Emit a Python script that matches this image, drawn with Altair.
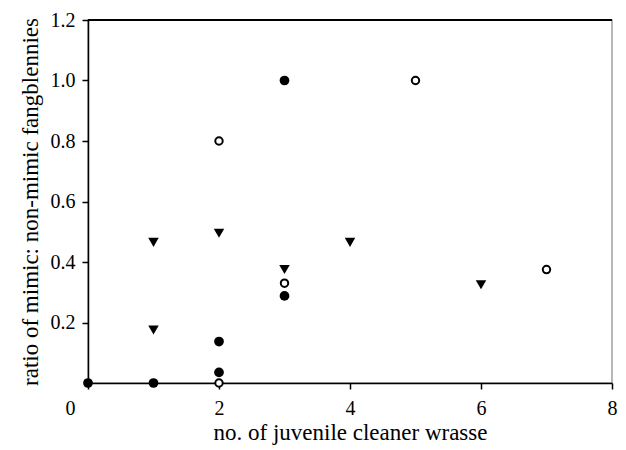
import altair as alt
import pandas as pd

filled_x = [0, 1, 2, 2, 3, 3]
filled_y = [0.0, 0.0, 0.035, 0.137, 0.288, 1.0]
open_x = [2, 2, 3, 5, 7]
open_y = [0.8, 0.0, 0.33, 1.0, 0.375]
tri_x = [1, 1, 2, 3, 4, 6]
tri_y = [0.465, 0.175, 0.495, 0.375, 0.465, 0.325]

x_ticks = [0, 2, 4, 6, 8]
y_ticks = [0.2, 0.4, 0.6, 0.8, 1.0, 1.2]

df_f = pd.DataFrame({"x": filled_x, "y": filled_y})
df_o = pd.DataFrame({"x": open_x, "y": open_y})
df_t = pd.DataFrame({"x": tri_x, "y": tri_y})

FONT = "Liberation Serif"

xscale = alt.Scale(domain=[0, 8], nice=False, zero=False)
yscale = alt.Scale(domain=[0, 1.2], nice=False)

x_bottom = alt.X(
    "x:Q", scale=xscale,
    axis=alt.Axis(
        title="no. of juvenile cleaner wrasse", values=x_ticks, format="d",
        grid=False, tickSize=6, labelPadding=9, titlePadding=3,
        labelAlign=alt.expr("datum.value == 0 ? 'right' : 'center'"),
        labelOffset=alt.expr("datum.value == 0 ? -13 : 0"),
    ),
)
y_left = alt.Y(
    "y:Q", scale=yscale,
    axis=alt.Axis(
        title="ratio of mimic: non-mimic fangblennies", values=y_ticks,
        format=".1f", grid=False, tickSize=6, labelPadding=7, titlePadding=8,
    ),
)

top_line = alt.Chart(df_f).mark_rule(color="black", strokeWidth=1.5).encode(
    x=alt.value(0), x2=alt.value(524), y=alt.value(0)
)

filled = alt.Chart(df_f).mark_point(
    shape="circle", filled=True, color="black", size=95, opacity=1
).encode(x=x_bottom, y=y_left)

opened = alt.Chart(df_o).mark_point(
    shape="circle", filled=False, color="black", size=55, strokeWidth=2, opacity=1,
    fill="white",
).encode(x=alt.X("x:Q", scale=xscale), y=alt.Y("y:Q", scale=yscale))

tris = alt.Chart(df_t).mark_point(
    shape="triangle-down", filled=True, color="black", size=110, opacity=1
).encode(x=alt.X("x:Q", scale=xscale), y=alt.Y("y:Q", scale=yscale))

chart = alt.layer(filled, tris, opened, top_line).properties(
    width=524, height=363,
    autosize=alt.AutoSizeParams(type="none"),
    padding={"left": 80, "top": 12, "right": 6, "bottom": 63},
).configure_view(
    stroke="#a0a0a0", strokeWidth=1.5
).configure_axis(
    labelFont=FONT, titleFont=FONT, labelFontSize=20, titleFontSize=23,
    titleFontWeight="normal", labelColor="black", titleColor="black",
    domainColor="black", tickColor="black", domainWidth=1.5, tickWidth=1.5,
)

chart.save("out.html", embed_options={"renderer": "svg", "actions": False})
